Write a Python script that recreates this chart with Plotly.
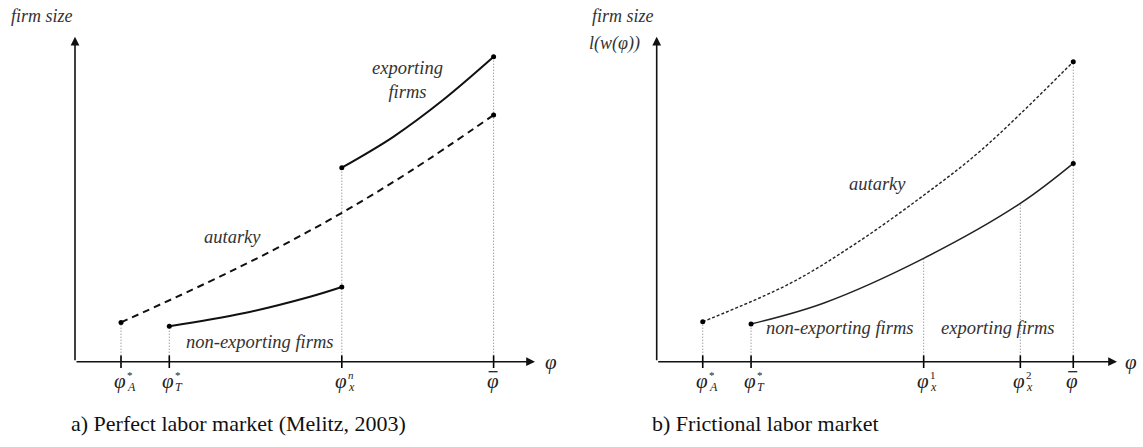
import plotly.graph_objects as go

W, H = 1143, 447

# ---------------- Panel a) Perfect labor market ----------------
phi_ticks_a = [1.0, 2.05, 5.8, 9.1]
phi_sup_a = ["*", "*", "<i>n</i>", ""]
phi_sub_a = ["<i>A</i>", "<i>T</i>", "<i>x</i>", ""]
phi_bar_a = [False, False, False, True]
aut_a_x = [1.0, 2.9, 4.4, 5.8, 7.3, 9.1]
aut_a_y = [1.21, 2.45, 3.50, 4.58, 5.87, 7.59]
nonexp_a_x = [2.05, 3.66, 5.11, 5.8]
nonexp_a_y = [1.09, 1.49, 2.00, 2.30]
exp_a_x = [5.8, 6.92, 8.0, 9.1]
exp_a_y = [5.97, 6.92, 8.05, 9.38]

# ---------------- Panel b) Frictional labor market ----------------
phi_ticks_b = [1.0, 2.05, 5.8, 7.9, 9.05]
phi_sup_b = ["*", "*", "1", "2", ""]
phi_sub_b = ["<i>A</i>", "<i>T</i>", "<i>x</i>", "<i>x</i>", ""]
phi_bar_b = [False, False, False, False, True]
aut_b_x = [1.0, 2.9, 4.35, 5.8, 7.06, 9.05]
aut_b_y = [1.23, 2.41, 3.66, 5.12, 6.52, 9.23]
trade_b_x = [2.05, 3.62, 5.8, 7.9, 9.05]
trade_b_y = [1.16, 1.80, 3.18, 4.87, 6.10]

SERIF = "Liberation Serif, Times New Roman, DejaVu Serif, serif"
fig = go.Figure()

def guides(xs, tops, xa, ya):
    gx, gy = [], []
    for x, t in zip(xs, tops):
        gx += [x, x, None]
        gy += [0, t, None]
    fig.add_trace(go.Scatter(x=gx, y=gy, mode="lines", xaxis=xa, yaxis=ya,
                             line=dict(color="#777", width=1, dash="1px,2px"),
                             hoverinfo="skip", showlegend=False))

def curve(xs, ys, xa, ya, width, dash, color):
    fig.add_trace(go.Scatter(x=xs, y=ys, mode="lines", xaxis=xa, yaxis=ya,
                             line=dict(color=color, width=width, dash=dash, shape="spline", smoothing=1.0),
                             hoverinfo="skip", showlegend=False, cliponaxis=False))

def dots(xs, ys, xa, ya):
    fig.add_trace(go.Scatter(x=xs, y=ys, mode="markers", xaxis=xa, yaxis=ya,
                             marker=dict(color="black", size=5),
                             hoverinfo="skip", showlegend=False, cliponaxis=False))

def tickmarks(xs, xa, ya):
    fig.add_trace(go.Scatter(x=xs, y=[0] * len(xs), mode="markers", xaxis=xa, yaxis=ya,
                             marker=dict(symbol="line-ns", size=9, line=dict(color="black", width=1.6)),
                             hoverinfo="skip", showlegend=False, cliponaxis=False))

def ticklabels(xs, sups, subs, bars, xa, ya):
    for x, sp, sb, bar in zip(xs, sups, subs, bars):
        fig.add_annotation(x=x, y=0, xref=xa, yref=ya, text="<i>φ</i>", showarrow=False,
                           xanchor="center", yanchor="middle", xshift=-1, yshift=-19,
                           font=dict(family=SERIF, size=21, color="#222"))
        if sp:
            fig.add_annotation(x=x, y=0, xref=xa, yref=ya, text=sp, showarrow=False,
                               xanchor="left", yanchor="middle", xshift=4, yshift=-13,
                               font=dict(family=SERIF, size=11, color="#222"))
        if sb:
            fig.add_annotation(x=x, y=0, xref=xa, yref=ya, text=sb, showarrow=False,
                               xanchor="left", yanchor="middle", xshift=4, yshift=-25,
                               font=dict(family=SERIF, size=12, color="#222"))
        if bar:
            fig.add_shape(type="line", xref=xa, yref=ya, xsizemode="pixel", ysizemode="pixel",
                          xanchor=x, yanchor=0, x0=-5, x1=4, y0=-10, y1=-10,
                          line=dict(color="#222", width=1.3))

# panel a
guides(phi_ticks_a, [aut_a_y[0], nonexp_a_y[0], exp_a_y[0], exp_a_y[-1]], "x", "y")
curve(aut_a_x, aut_a_y, "x", "y", 2, "7px,5px", "#111")
curve(nonexp_a_x, nonexp_a_y, "x", "y", 2, "solid", "#111")
curve(exp_a_x, exp_a_y, "x", "y", 2, "solid", "#111")
dots([aut_a_x[0], aut_a_x[-1], nonexp_a_x[0], nonexp_a_x[-1], exp_a_x[0], exp_a_x[-1]],
     [aut_a_y[0], aut_a_y[-1], nonexp_a_y[0], nonexp_a_y[-1], exp_a_y[0], exp_a_y[-1]], "x", "y")
tickmarks(phi_ticks_a, "x", "y")
ticklabels(phi_ticks_a, phi_sup_a, phi_sub_a, phi_bar_a, "x", "y")

# panel b
guides(phi_ticks_b, [aut_b_y[0], trade_b_y[0], trade_b_y[2], trade_b_y[3], aut_b_y[-1]], "x2", "y2")
curve(aut_b_x, aut_b_y, "x2", "y2", 1.4, "3px,2px", "#222")
curve(trade_b_x, trade_b_y, "x2", "y2", 1.5, "solid", "#222")
dots([aut_b_x[0], aut_b_x[-1], trade_b_x[0], trade_b_x[-1]],
     [aut_b_y[0], aut_b_y[-1], trade_b_y[0], trade_b_y[-1]], "x2", "y2")
tickmarks(phi_ticks_b, "x2", "y2")
ticklabels(phi_ticks_b, phi_sup_b, phi_sub_b, phi_bar_b, "x2", "y2")

# y scale: 32.5 px per unit, origin at 361.7 px; range extends below 0 to leave room for labels
Y_LOW = -0.9
ydom = [1 - (361.7 - Y_LOW * 32.5) / H, 1 - 36.7 / H]
axis_common = dict(showgrid=False, zeroline=False, showline=False,
                   showticklabels=False, ticks="", fixedrange=True)
fig.update_layout(
    width=W, height=H, margin=dict(l=0, r=0, t=0, b=0),
    paper_bgcolor="white", plot_bgcolor="white",
    xaxis=dict(domain=[75 / W, 535 / W], range=[0, 10], **axis_common),
    yaxis=dict(domain=ydom, range=[Y_LOW, 10], **axis_common),
    xaxis2=dict(domain=[656.7 / W, 1117 / W], range=[0, 10], anchor="y2", **axis_common),
    yaxis2=dict(domain=ydom, range=[Y_LOW, 10], anchor="x2", **axis_common),
)

# axes arrows
for xa, ya in (("x", "y"), ("x2", "y2")):
    fig.add_annotation(x=10, y=0, ax=0, ay=0, xref=xa, yref=ya, axref=xa, ayref=ya,
                       text="", showarrow=True, arrowhead=2, arrowsize=1.1, arrowwidth=1.6,
                       arrowcolor="#111")
    fig.add_annotation(x=0, y=10, ax=0, ay=0, xref=xa, yref=ya, axref=xa, ayref=ya,
                       text="", showarrow=True, arrowhead=2, arrowsize=1.1, arrowwidth=1.6,
                       arrowcolor="#111")

def label(px, py, text, size=17, italic=True, xanchor="center", color="#333"):
    fig.add_annotation(x=px / W, y=1 - py / H, xref="paper", yref="paper",
                       text=f"<i>{text}</i>" if italic else text, showarrow=False,
                       xanchor=xanchor, yanchor="middle",
                       font=dict(family=SERIF, size=size, color=color))

# panel a labels
label(42, 16, "firm size", size=18)
label(551, 362, "φ", size=21, color="#222")
label(407, 80, "exporting<br>firms", size=18.5)
label(232, 237, "autarky", size=18.5)
label(259, 342, "non-exporting firms", size=18.5)
label(69, 423, "a) Perfect labor market (Melitz, 2003)", size=22, italic=False, xanchor="left", color="#111")

# panel b labels
label(623, 16, "firm size", size=18)
label(614, 43, "l(w(φ))", size=18)
label(1131, 362, "φ", size=21, color="#222")
label(877, 184, "autarky", size=18.5)
label(839, 328, "non-exporting firms", size=18.5)
label(998, 328, "exporting firms", size=18.5)
label(650, 423, "b) Frictional labor market", size=22, italic=False, xanchor="left", color="#111")

fig.write_html("out.html", config={"displayModeBar": False},
               post_script="document.body.style.margin='0px';")
